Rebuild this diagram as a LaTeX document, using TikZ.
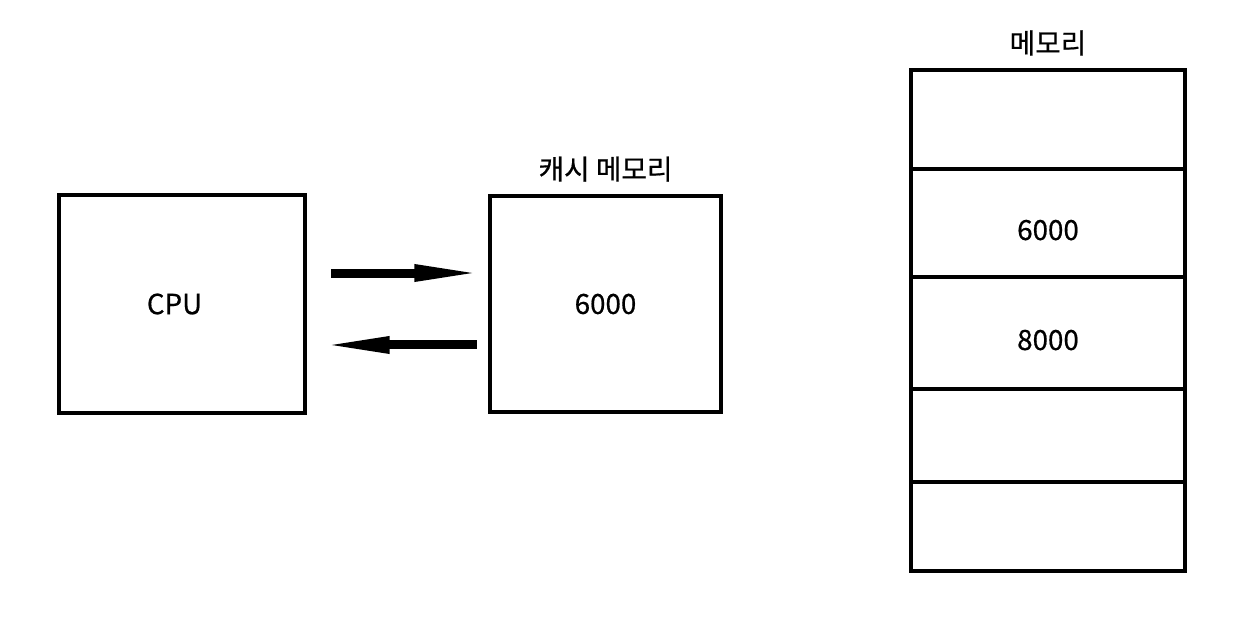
\documentclass[tikz,border=0pt]{standalone}
\usepackage{fontspec}
\setmainfont{Noto Sans CJK KR}[FakeBold=0.6]
\usetikzlibrary{positioning,arrows.meta}
\definecolor{inkBlack}{RGB}{0,0,0}
\tikzset{
    base/.style={font=\fontsize{15.8}{18}\selectfont, align=center, text=inkBlack},
    box/.style={base, rectangle, draw=inkBlack, line width=0.09cm, fill=white},
    cell/.style={box, minimum width=5.48cm, inner sep=0pt, text height=0.78cm, text depth=0.1cm},
    title/.style={base, inner sep=1pt},
    flow/.style={-{Triangle[length=1.45cm,width=0.3cm]}, line width=0.18cm, color=inkBlack}
}

\begin{document}
\begin{tikzpicture}[x=0.02cm,y=-0.02cm]
  \useasboundingbox (0,0) rectangle (1246,617);

  % CPU and cache
  \node[box, minimum width=4.92cm, minimum height=4.36cm] (cpu) at (182,304) {CPU\hspace{0.3cm}};
  \node[box, minimum width=4.62cm, minimum height=4.32cm] (cache) at (605.5,304) {6000};
  \node[title, above=0.2cm of cache] (cachetitle) {캐시 메모리};

  % Transfer arrows
  \draw[flow, shorten <=0.48cm, shorten >=0.02cm] ([yshift=0.62cm]cpu.east) -- ([yshift=0.62cm]cache.west);
  \draw[flow, shorten <=0.22cm, shorten >=0.2cm] ([yshift=-0.82cm]cache.west) -- ([yshift=-0.82cm]cpu.east);

  % Main memory
  \node[cell, minimum height=1.98cm] (mem1) at (1048,119.5) {};
  \node[cell, minimum height=2.16cm, below=-0.09cm of mem1] (mem2) {6000};
  \node[cell, minimum height=2.24cm, below=-0.09cm of mem2] (mem3) {8000};
  \node[cell, minimum height=1.86cm, below=-0.09cm of mem3] (mem4) {};
  \node[cell, minimum height=1.78cm, below=-0.09cm of mem4] (mem5) {};
  \node[title, above=0.2cm of mem1] (memtitle) {메모리};
\end{tikzpicture}
\end{document}
